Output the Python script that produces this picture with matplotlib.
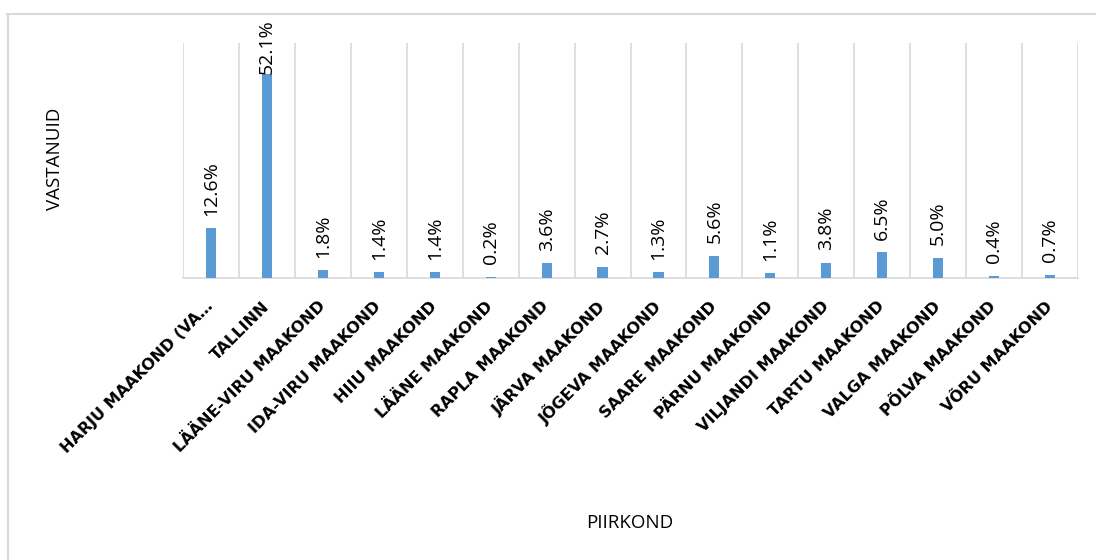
import matplotlib
matplotlib.use("Agg")
import matplotlib.pyplot as plt
from matplotlib.lines import Line2D
from matplotlib.font_manager import FontProperties

categories = ["HARJU MAAKOND (VA…", "TALLINN", "LÄÄNE-VIRU MAAKOND", "IDA-VIRU MAAKOND",
              "HIIU MAAKOND", "LÄÄNE MAAKOND", "RAPLA MAAKOND", "JÄRVA MAAKOND",
              "JÕGEVA MAAKOND", "SAARE MAAKOND", "PÄRNU MAAKOND", "VILJANDI MAAKOND",
              "TARTU MAAKOND", "VALGA MAAKOND", "PÕLVA MAAKOND", "VÕRU MAAKOND"]
values = [12.6, 52.1, 1.8, 1.4, 1.4, 0.2, 3.6, 2.7, 1.3, 5.6, 1.1, 3.8, 6.5, 5.0, 0.4, 0.7]
value_labels = ["12.6%", "52.1%", "1.8%", "1.4%", "1.4%", "0.2%", "3.6%", "2.7%", "1.3%",
                "5.6%", "1.1%", "3.8%", "6.5%", "5.0%", "0.4%", "0.7%"]
y_title = "VASTANUID"
x_title = "PIIRKOND"

W, H = 1096, 560
plt.rcParams['font.family'] = ['Open Sans', 'DejaVu Sans']
fig = plt.figure(figsize=(W / 100, H / 100), dpi=100)

ax = fig.add_axes([183 / W, 1 - 277.5 / H, (1078 - 183) / W, (277.5 - 43) / H])
n = len(categories)
x = list(range(n))
ax.bar(x, values, width=0.18, color="#5B9BD5", zorder=3)
ax.set_xlim(-0.5, n - 0.5)
ax.set_ylim(0, 60)

for i in range(n + 1):
    ax.axvline(i - 0.5, color="#D9D9D9", lw=1.2, zorder=1)

for s in ["top", "right", "left"]:
    ax.spines[s].set_visible(False)
ax.spines["bottom"].set_color("#D9D9D9")
ax.spines["bottom"].set_linewidth(1.2)
ax.set_yticks([])
ax.tick_params(axis="x", length=0, pad=19)
ax.set_xticks(x)
tick_fp = FontProperties(family="DejaVu Sans", weight="bold", size=11.5)
ax.set_xticklabels(categories, fontproperties=tick_fp, rotation=45, ha="right",
                   va="center", rotation_mode="anchor", color="#000000")

for xi, v, lab in zip(x, values, value_labels):
    off = 0 if v > 45 else 9
    ax.annotate(lab, (xi, v), xytext=(0, off), textcoords="offset points",
                rotation=90, ha="center", va="bottom", fontsize=14,
                color="#000000", annotation_clip=False)

fig.text(55 / W, 1 - 159 / H, y_title, rotation=90, ha="center", va="center",
         fontsize=13.5, color="#000000")
fig.text(630 / W, 1 - 523 / H, x_title, ha="center", va="center",
         fontsize=13.5, color="#000000")

fig.add_artist(Line2D([7 / W, 1], [1 - 13.5 / H, 1 - 13.5 / H], transform=fig.transFigure,
                      color="#D9D9D9", lw=1.5))
fig.add_artist(Line2D([7.5 / W, 7.5 / W], [0, 1 - 13.5 / H], transform=fig.transFigure,
                      color="#D9D9D9", lw=1.5))

fig.savefig("out.png", dpi=100, facecolor="white")
